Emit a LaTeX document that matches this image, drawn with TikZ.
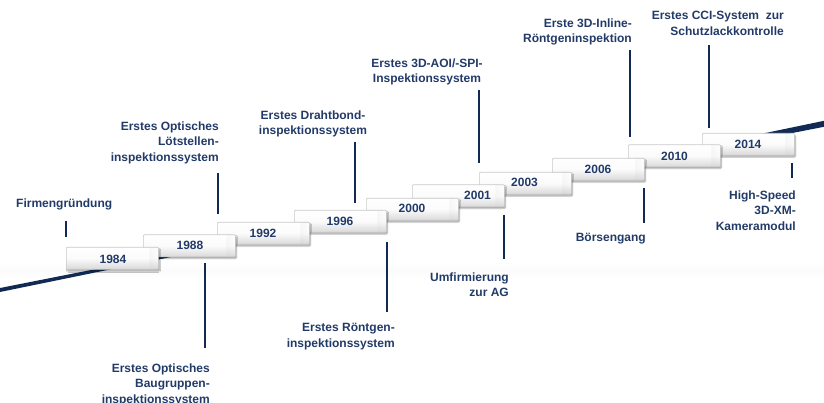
\documentclass[tikz,border=0pt]{standalone}
\usepackage{fontspec}
\setmainfont{Liberation Sans}
\usetikzlibrary{shadows.blur,fadings}
\definecolor{navy}{RGB}{34,58,104}
\definecolor{rulecol}{RGB}{16,42,84}
\newcommand\tlfont{\fontsize{12}{15.5}\selectfont\bfseries}
\begin{document}
\begin{tikzpicture}[x=1pt,y=-1pt,
  yearbox/.style={draw=gray!42, line width=0.6pt, rounded corners=1pt,
    top color=white, bottom color=gray!30, middle color=gray!3,
    minimum width=92pt, minimum height=22pt, inner sep=0pt, anchor=north west,
    path picture={\fill[gray!55, path fading=east]
      ([xshift=-9pt]path picture bounding box.north east)
      rectangle (path picture bounding box.south east);},
    blur shadow={shadow xshift=1.2pt, shadow yshift=-1.8pt, shadow opacity=35,
      shadow blur steps=4, shadow blur radius=1.2pt}},
  year/.style={font=\tlfont, text=navy, inner sep=0pt},
  lbl/.style={font=\tlfont, text=navy, inner sep=0pt},
  tick/.style={draw=rulecol, line width=2.6pt}]
\useasboundingbox (0,0) rectangle (824,403);

% faint floor band
\shade[top color=white, bottom color=white, middle color=gray!3.5]
  (0,261) rectangle (824,279);

% tapered time axis
\fill[rulecol] (0,288) -- (412,206.6) -- (824,120.8) -- (824,126.8)
  -- (412,207.6) -- (0,292) -- cycle;

% year boxes, later years behind earlier ones
\node[yearbox] (b14) at (702,133) {};
\node[year] (y14) at (748,144) {2014};
\node[yearbox] (b10) at (628,144.5) {};
\node[year] (y10) at (674.5,156) {2010};
\node[yearbox] (b06) at (552,158) {};
\node[year] (y06) at (598,169) {2006};
\node[yearbox] (b03) at (479,172) {};
\node[year] (y03) at (524.5,182) {2003};
\node[yearbox] (b01) at (412,184.5) {};
\node[year] (y01) at (477.5,195) {2001};
\node[yearbox] (b00) at (366,198) {};
\node[year] (y00) at (412,208) {2000};
\node[yearbox] (b96) at (294,210) {};
\node[year] (y96) at (340,221) {1996};
\node[yearbox] (b92) at (217,222) {};
\node[year] (y92) at (263,233) {1992};
\node[yearbox] (b88) at (143,234.5) {};
\node[year] (y88) at (190,245) {1988};
\node[yearbox] (b84) at (66,247) {};
\node[year] (y84) at (113,259) {1984};

% milestone labels
\node[lbl, anchor=north west, align=left] (l84) at (16,198.4) {Firmengründung};
\node[lbl, anchor=north east, align=right] (l88) at (210,363.4)
  {Erstes Optisches\\Baugruppen-\\inspektionssystem};
\node[lbl, anchor=north east, align=right] (l92) at (219,121.4)
  {Erstes Optisches\\Lötstellen-\\inspektionssystem};
\node[lbl, anchor=north, align=center] (l96) at (313,110.4)
  {Erstes Drahtbond-\\inspektionssystem};
\node[lbl, anchor=north east, align=right] (l00) at (395,323.4)
  {Erstes Röntgen-\\inspektionssystem};
\node[lbl, anchor=north, align=center] (l01) at (427,58.4)
  {Erstes 3D-AOI/-SPI-\\Inspektionssystem};
\node[lbl, anchor=north east, align=right] (l01b) at (509,272.4)
  {Umfirmierung\\zur AG};
\node[lbl, anchor=north east, align=right] (l06) at (646,233.4) {Börsengang};
\node[lbl, anchor=north east, align=right] (l10) at (632,18.4)
  {Erste 3D-Inline-\\Röntgeninspektion};
\node[lbl, anchor=north east, align=right] (l14) at (784,11.4)
  {Erstes CCI-System\ \ zur\\Schutzlackkontrolle};
\node[lbl, anchor=north east, align=right] (l14b) at (796,190.4)
  {High-Speed\\3D-XM-\\Kameramodul};

% tick marks
\coordinate (k84a) at (66,221);   \coordinate (k84b) at (66,237);
\coordinate (k88a) at (205,263);  \coordinate (k88b) at (205,348);
\coordinate (k92a) at (218,173);  \coordinate (k92b) at (218,214);
\coordinate (k96a) at (355,142);  \coordinate (k96b) at (355,203);
\coordinate (k00a) at (387,242);  \coordinate (k00b) at (387,312);
\coordinate (k01a) at (479,90);   \coordinate (k01b) at (479,163);
\coordinate (k01c) at (504,215);  \coordinate (k01d) at (504,259);
\coordinate (k06a) at (644,188);  \coordinate (k06b) at (644,223);
\coordinate (k10a) at (630,50);   \coordinate (k10b) at (630,137);
\coordinate (k14a) at (709,45);   \coordinate (k14b) at (709,128);
\coordinate (k14c) at (792,163);  \coordinate (k14d) at (792,178);
\foreach \a/\b in {k84a/k84b,k88a/k88b,k92a/k92b,k96a/k96b,k00a/k00b,
    k01a/k01b,k01c/k01d,k06a/k06b,k10a/k10b,k14a/k14b,k14c/k14d}
  \draw[tick] (\a) -- (\b);
\end{tikzpicture}
\end{document}
